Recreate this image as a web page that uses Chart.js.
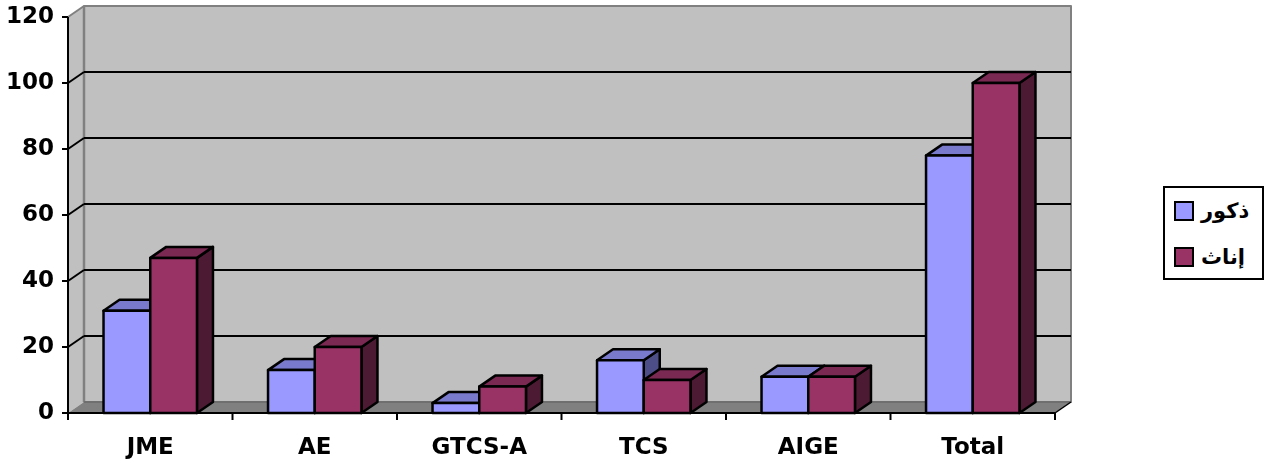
<!DOCTYPE html>
<html>
<head>
<meta charset="utf-8">
<script src="https://cdn.jsdelivr.net/npm/chart.js@4/dist/chart.umd.min.js"></script>
<style>
  html, body { margin: 0; padding: 0; background: #ffffff; }
  #wrap { position: relative; width: 1272px; height: 464px; }
  #chart { position: absolute; left: 0; top: 0; }
  #legend {
    position: absolute; left: 1163px; top: 186px; width: 97px; height: 90px;
    border: 2px solid #000; background: #fff;
    font-family: "DejaVu Sans", sans-serif; font-weight: bold; font-size: 21px;
  }
  .item { position: absolute; left: 9px; height: 24px; display: flex; align-items: center; }
  .swatch { width: 16px; height: 16px; border: 2px solid #000; margin-right: 7px; }
  .label { direction: rtl; unicode-bidi: embed; line-height: 24px; }
</style>
</head>
<body>
<div id="wrap">
  <canvas id="chart" width="1272" height="464"></canvas>
  <div id="legend"></div>
</div>
<script>
// Categories and the two series (males / females)
const categories = ['JME', 'AE', 'GTCS-A', 'TCS', 'AIGE', 'Total'];
const males = [31, 13, 3, 16, 11, 78];
const females = [47, 20, 8, 10, 11, 100];
const seriesNames = ['ذكور', 'إناث'];
const yMin = 0, yMax = 120, yStep = 20;

// Face colours for each series: front, top, side
const palette = [
  { front: '#9999FF', top: '#7A7ACC', side: '#4D4D88' },
  { front: '#993366', top: '#7A2952', side: '#4D1A33' }
];

// Depth offset of the 3D box (pixels, towards the back wall)
const DX = 16, DY = -11;

function poly(ctx, pts, fill, stroke, lw) {
  ctx.beginPath();
  ctx.moveTo(pts[0][0], pts[0][1]);
  for (let i = 1; i < pts.length; i++) ctx.lineTo(pts[i][0], pts[i][1]);
  ctx.closePath();
  if (fill) { ctx.fillStyle = fill; ctx.fill(); }
  if (stroke) { ctx.strokeStyle = stroke; ctx.lineWidth = lw; ctx.stroke(); }
}

function line(ctx, x1, y1, x2, y2, color, lw) {
  ctx.beginPath();
  ctx.moveTo(x1, y1); ctx.lineTo(x2, y2);
  ctx.strokeStyle = color; ctx.lineWidth = lw; ctx.stroke();
}

// Walls, floor, gridlines and the 3D columns
const box3d = {
  id: 'box3d',
  beforeDatasetsDraw(chart) {
    const ctx = chart.ctx;
    const a = chart.chartArea;
    const ys = chart.scales.y;
    const L = a.left, R = a.right, B = ys.getPixelForValue(yMin), T = ys.getPixelForValue(yMax);
    ctx.save();
    ctx.lineJoin = 'round';
    // back wall
    poly(ctx, [[L + DX, T + DY], [R + DX, T + DY], [R + DX, B + DY], [L + DX, B + DY]], '#C0C0C0', '#808080', 2);
    // side wall
    poly(ctx, [[L, B], [L, T], [L + DX, T + DY], [L + DX, B + DY]], '#C0C0C0', null, 0);
    line(ctx, L, T, L + DX, T + DY, '#808080', 2);
    line(ctx, L + DX, T + DY, L + DX, B + DY, '#808080', 2.5);
    // gridlines on back and side walls
    for (let v = yMin + yStep; v < yMax; v += yStep) {
      const yf = ys.getPixelForValue(v);
      line(ctx, L + DX, yf + DY, R + DX, yf + DY, '#000', 2);
      line(ctx, L, yf, L + DX, yf + DY, '#000', 2);
    }
    // floor
    poly(ctx, [[L, B], [R, B], [R + DX, B + DY], [L + DX, B + DY]], '#808080', null, 0);
    line(ctx, L + DX, B + DY, R + DX, B + DY, '#6A6A6A', 1.5);
    line(ctx, R, B, R + DX, B + DY, '#000', 1.5);
    // axes with tick marks
    line(ctx, L, T, L, B + 1, '#000', 2);
    line(ctx, L - 1, B, R, B, '#000', 2);
    for (let v = yMin; v <= yMax; v += yStep) {
      const yf = ys.getPixelForValue(v);
      line(ctx, L - 6, yf, L, yf, '#000', 2);
    }
    const cw = (R - L) / categories.length;
    for (let i = 0; i <= categories.length; i++) {
      const x = L + i * cw;
      line(ctx, x, B, x, B + 7, '#000', 2);
    }
    // columns, painted back-to-front within each category
    const metas = chart.getSortedVisibleDatasetMetas().slice().sort((p, q) => p.index - q.index);
    for (let i = 0; i < categories.length; i++) {
      metas.forEach((meta) => {
        const el = meta.data[i];
        const c = palette[meta.index];
        const l = el.x - el.width / 2, r = el.x + el.width / 2, t = el.y, b = el.base;
        poly(ctx, [[r, t], [r + DX, t + DY], [r + DX, b + DY], [r, b]], c.side, '#000', 2.5);
        poly(ctx, [[l, t], [l + DX, t + DY], [r + DX, t + DY], [r, t]], c.top, '#000', 2.5);
        poly(ctx, [[l, t], [r, t], [r, b], [l, b]], c.front, '#000', 2.5);
      });
    }
    ctx.restore();
    return false;
  }
};

const tickFont = { family: '"DejaVu Sans", sans-serif', size: 23, weight: 'bold' };

new Chart(document.getElementById('chart'), {
  type: 'bar',
  data: {
    labels: categories,
    datasets: [
      { label: seriesNames[0], data: males, backgroundColor: palette[0].front },
      { label: seriesNames[1], data: females, backgroundColor: palette[1].front }
    ]
  },
  options: {
    responsive: false,
    animation: false,
    devicePixelRatio: 1,
    categoryPercentage: 0.568,
    barPercentage: 1,
    layout: { padding: { left: 0, top: 17, right: 217, bottom: 0 } },
    plugins: { legend: { display: false }, tooltip: { enabled: false } },
    scales: {
      x: {
        grid: { display: false, drawTicks: false },
        border: { display: false },
        ticks: { color: '#000', font: tickFont, padding: 21, maxRotation: 0 },
        afterFit(s) { s.height = 51; s.paddingLeft = 0; s.paddingRight = 0; }
      },
      y: {
        min: yMin, max: yMax,
        grid: { display: false, drawTicks: false },
        border: { display: false },
        ticks: { stepSize: yStep, color: '#000', font: tickFont, padding: 14 },
        afterFit(s) { s.width = 68; s.paddingTop = 0; s.paddingBottom = 0; }
      }
    }
  },
  plugins: [box3d]
});

// Legend box
const legend = document.getElementById('legend');
seriesNames.forEach((name, i) => {
  const item = document.createElement('div');
  item.className = 'item';
  item.style.top = (i === 0 ? 11 : 57) + 'px';
  const sw = document.createElement('div');
  sw.className = 'swatch';
  sw.style.background = palette[i].front;
  const lb = document.createElement('span');
  lb.className = 'label';
  lb.textContent = name;
  item.appendChild(sw);
  item.appendChild(lb);
  legend.appendChild(item);
});
</script>
</body>
</html>
